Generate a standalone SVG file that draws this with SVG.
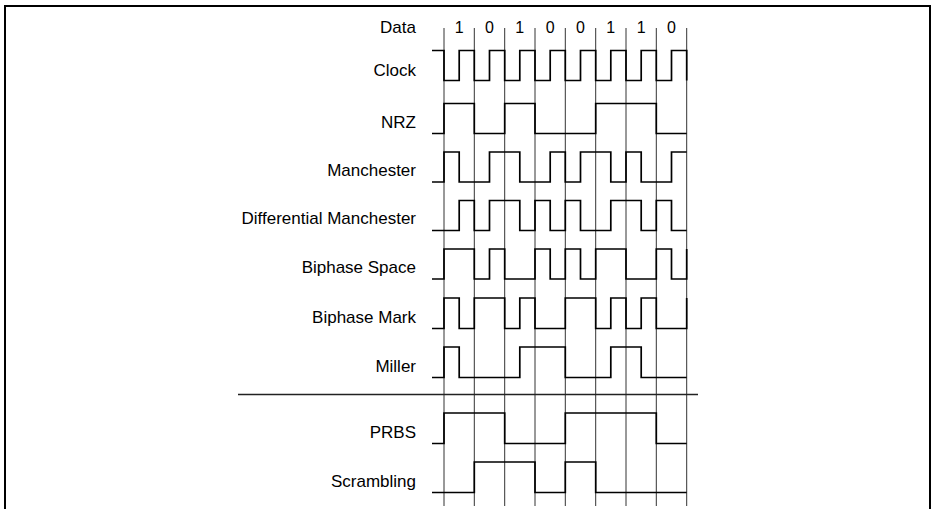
<svg xmlns="http://www.w3.org/2000/svg" width="932" height="509" viewBox="0 0 932 509">
<style>
.lbl{font-family:"Liberation Sans",Arial,sans-serif;font-size:17px;fill:#000;text-anchor:end}
.dig{font-family:"Liberation Sans",Arial,sans-serif;font-size:16px;fill:#000;text-anchor:middle}
.wave{fill:none;stroke:#000;stroke-width:1.7;stroke-linejoin:miter}
.grid{stroke:#333;stroke-width:1}
</style>
<rect x="5" y="6" width="925" height="520" fill="#fff" stroke="#000" stroke-width="2"/>
<g id="grid">
<line class="grid" x1="444" y1="28" x2="444" y2="506"/>
<line class="grid" x1="474.3" y1="28" x2="474.3" y2="506"/>
<line class="grid" x1="504.7" y1="28" x2="504.7" y2="506"/>
<line class="grid" x1="535" y1="28" x2="535" y2="506"/>
<line class="grid" x1="565.3" y1="28" x2="565.3" y2="506"/>
<line class="grid" x1="595.7" y1="28" x2="595.7" y2="506"/>
<line class="grid" x1="626" y1="28" x2="626" y2="506"/>
<line class="grid" x1="656.3" y1="28" x2="656.3" y2="506"/>
<line class="grid" x1="686.7" y1="28" x2="686.7" y2="506"/>
<line x1="238" y1="394.5" x2="698" y2="394.5" stroke="#222" stroke-width="1.4"/>
</g>
<g id="data">
<text class="lbl" x="416" y="33">Data</text>
<text class="dig" x="459.2" y="33">1</text>
<text class="dig" x="489.5" y="33">0</text>
<text class="dig" x="519.8" y="33">1</text>
<text class="dig" x="550.2" y="33">0</text>
<text class="dig" x="580.5" y="33">0</text>
<text class="dig" x="610.8" y="33">1</text>
<text class="dig" x="641.2" y="33">1</text>
<text class="dig" x="671.5" y="33">0</text>
</g>
<g id="clock">
<text class="lbl" x="416" y="76">Clock</text>
<path class="wave" d="M432,50.5 H444 V80.5 H459.2 V50.5 H474.3 V80.5 H489.5 V50.5 H504.7 V80.5 H519.8 V50.5 H535 V80.5 H550.2 V50.5 H565.3 V80.5 H580.5 V50.5 H595.7 V80.5 H610.8 V50.5 H626 V80.5 H641.2 V50.5 H656.3 V80.5 H671.5 V50.5 H686.7 V80.5"/>
</g>
<g id="nrz">
<text class="lbl" x="416" y="127.5">NRZ</text>
<path class="wave" d="M432,133.5 H444 V103.5 H474.3 V133.5 H504.7 V103.5 H535 V133.5 H595.7 V103.5 H656.3 V133.5 H686.7"/>
</g>
<g id="manchester">
<text class="lbl" x="416" y="176">Manchester</text>
<path class="wave" d="M432,182 H444 V152 H459.2 V182 H489.5 V152 H519.8 V182 H550.2 V152 H565.3 V182 H580.5 V152 H610.8 V182 H626 V152 H641.2 V182 H671.5 V152 H686.7"/>
</g>
<g id="diff-manchester">
<text class="lbl" x="416" y="224">Differential Manchester</text>
<path class="wave" d="M432,230.5 H459.2 V200.5 H474.3 V230.5 H489.5 V200.5 H519.8 V230.5 H535 V200.5 H550.2 V230.5 H565.3 V200.5 H580.5 V230.5 H610.8 V200.5 H641.2 V230.5 H656.3 V200.5 H671.5 V230.5 H686.7"/>
</g>
<g id="biphase-space">
<text class="lbl" x="416" y="273">Biphase Space</text>
<path class="wave" d="M432,279 H444 V249 H474.3 V279 H489.5 V249 H504.7 V279 H535 V249 H550.2 V279 H565.3 V249 H580.5 V279 H595.7 V249 H626 V279 H656.3 V249 H671.5 V279 H686.7 V249"/>
</g>
<g id="biphase-mark">
<text class="lbl" x="416" y="322.5">Biphase Mark</text>
<path class="wave" d="M432,328.5 H444 V298 H459.2 V328.5 H474.3 V298 H504.7 V328.5 H519.8 V298 H535 V328.5 H565.3 V298 H595.7 V328.5 H610.8 V298 H626 V328.5 H641.2 V298 H656.3 V328.5 H686.7 V298"/>
</g>
<g id="miller">
<text class="lbl" x="416" y="371.5">Miller</text>
<path class="wave" d="M432,377.5 H444 V347 H459.2 V377.5 H519.8 V347 H565.3 V377.5 H610.8 V347 H641.2 V377.5 H686.7"/>
</g>
<g id="prbs">
<text class="lbl" x="416" y="437.5">PRBS</text>
<path class="wave" d="M432,443.5 H444 V413 H504.7 V443.5 H565.3 V413 H656.3 V443.5 H686.7"/>
</g>
<g id="scrambling">
<text class="lbl" x="416" y="486.5">Scrambling</text>
<path class="wave" d="M432,492.5 H474.3 V462 H535 V492.5 H565.3 V462 H595.7 V492.5 H686.7"/>
</g>
</svg>
